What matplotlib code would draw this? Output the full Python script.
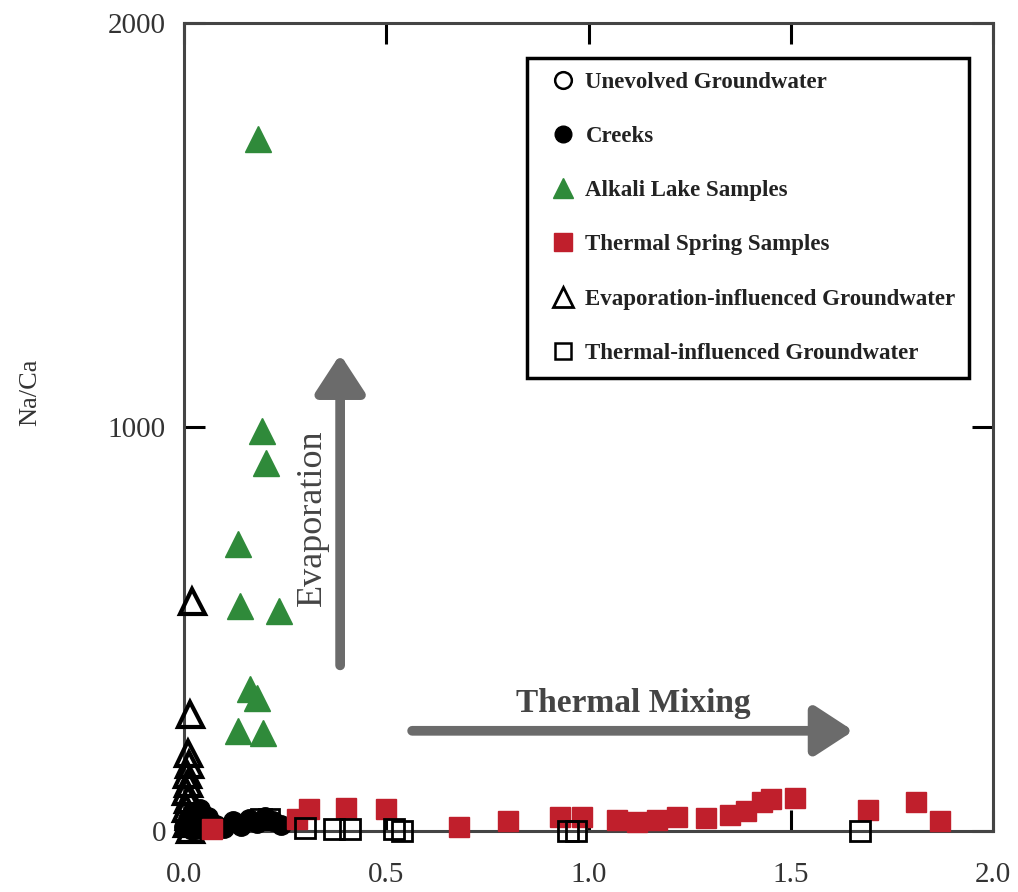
import matplotlib
matplotlib.use("Agg")
import matplotlib.pyplot as plt
from matplotlib.lines import Line2D

plt.rcParams['font.family'] = ['Liberation Serif', 'DejaVu Serif']

# Unevolved groundwater (open circles, mostly buried at the origin)
unevolved_x = [0.02, 0.05, 0.08]
unevolved_y = [5, 15, 8]

# Creeks (filled black circles)
creek_x = [0.0, 0.01, 0.03, 0.05, 0.02, 0.08, 0.10, 0.12, 0.14, 0.16, 0.18, 0.20, 0.22, 0.24, 0.06, 0.04]
creek_y = [10, 30, 5, 20, 45, 15, 8, 25, 12, 30, 20, 35, 25, 15, 35, 55]

# Alkali lake samples
alkali_x = [0.183, 0.193, 0.203, 0.134, 0.138, 0.235, 0.163, 0.180, 0.134, 0.195]
alkali_y = [1713, 990, 911, 710, 557, 545, 351, 329, 248, 243]

# Thermal spring samples
spring_x = [0.07, 0.28, 0.31, 0.40, 0.50, 0.68, 0.80, 0.93, 0.985, 1.07, 1.12, 1.17,
            1.22, 1.29, 1.35, 1.39, 1.43, 1.45, 1.51, 1.69, 1.81, 1.87]
spring_y = [5, 29, 54, 58, 54, 10, 25, 35, 35, 27, 22, 27,
            35, 31, 40, 49, 71, 80, 82, 52, 72, 25]

# Evaporation-influenced groundwater (open triangles)
evap_x = [0.02, 0.015, 0.01, 0.012, 0.008, 0.01, 0.006, 0.01, 0.005, 0.012, 0.008, 0.015]
evap_y = [569, 290, 192, 165, 140, 118, 98, 78, 58, 38, 20, 5]

# Thermal-influenced groundwater (open squares)
tig_x = [0.19, 0.21, 0.30, 0.37, 0.41, 0.52, 0.54, 0.95, 0.97, 1.67]
tig_y = [30, 30, 8, 5, 5, 5, 0, 0, 0, 0]

GREEN = '#2f8a3a'
RED = '#c01f2c'
ARROW = '#6b6b6b'

fig = plt.figure(figsize=(10.18, 8.92), dpi=100)
ax = fig.add_axes([184 / 1018, 61 / 892, 809 / 1018, 808 / 892])

ax.plot(creek_x, creek_y, 'o', ms=14, color='black', ls='none', clip_on=False, zorder=3)
ax.plot(unevolved_x, unevolved_y, 'o', ms=14, mfc='none', mec='black', mew=2,
        ls='none', clip_on=False, zorder=3)
ax.plot(evap_x, evap_y, '^', ms=18, mfc='none', mec='black', mew=3,
        ls='none', clip_on=False, zorder=4)
ax.plot(alkali_x, alkali_y, '^', ms=19, color=GREEN, ls='none', clip_on=False, zorder=4)
ax.plot(spring_x, spring_y, 's', ms=15, color=RED, ls='none', clip_on=False, zorder=5)
ax.plot(tig_x, tig_y, 's', ms=14, mfc='none', mec='black', mew=2,
        ls='none', clip_on=False, zorder=6)

# arrows
arrow_style = '-|>,head_length=2.3,head_width=1.5'
ax.annotate('', xy=(0.386, 1180), xytext=(0.386, 410),
            arrowprops=dict(arrowstyle=arrow_style, color=ARROW, lw=7,
                            shrinkA=0, shrinkB=0))
ax.annotate('', xy=(1.655, 248), xytext=(0.564, 248),
            arrowprops=dict(arrowstyle=arrow_style, color=ARROW, lw=7,
                            shrinkA=0, shrinkB=0))
ax.text(0.318, 775, 'Evaporation', rotation=90, ha='center', va='center',
        fontsize=26, color='#444444')
ax.text(1.11, 315, 'Thermal Mixing', ha='center', va='center',
        fontsize=24, fontweight='bold', color='#444444')

ax.set_xlim(0, 2.0)
ax.set_ylim(0, 2000)
ax.set_xticks([0.0, 0.5, 1.0, 1.5, 2.0])
ax.set_xticklabels(['0.0', '0.5', '1.0', '1.5', '2.0'])
ax.set_yticks([0, 1000, 2000])
ax.tick_params(direction='in', length=15, width=2.2, color='black',
               labelsize=21, labelcolor='#333333', top=True, right=True)
ax.tick_params(axis='x', pad=22)
ax.tick_params(axis='y', pad=13)
for s in ax.spines.values():
    s.set_linewidth(2.2)
    s.set_color('#444444')

fig.text(30 / 1018, 1 - 392 / 892, 'Na/Ca', rotation=90, ha='center', va='center',
         fontsize=19, color='#333333')

handles = [
    Line2D([], [], marker='o', ls='none', ms=12, mfc='none', mec='black', mew=1.8),
    Line2D([], [], marker='o', ls='none', ms=12, color='black'),
    Line2D([], [], marker='^', ls='none', ms=14, color=GREEN),
    Line2D([], [], marker='s', ls='none', ms=13, color=RED),
    Line2D([], [], marker='^', ls='none', ms=14, mfc='none', mec='black', mew=2),
    Line2D([], [], marker='s', ls='none', ms=11, mfc='none', mec='black', mew=1.8),
]
labels = ['Unevolved Groundwater', 'Creeks', 'Alkali Lake Samples',
          'Thermal Spring Samples', 'Evaporation-influenced Groundwater',
          'Thermal-influenced Groundwater']
leg = ax.legend(handles, labels, loc='upper left', bbox_to_anchor=(0.424, 0.957),
                borderaxespad=0, fancybox=False, framealpha=1, edgecolor='black',
                prop={'family': 'Liberation Serif', 'weight': 'bold', 'size': 16.5},
                labelspacing=1.45, handlelength=1.9, handletextpad=0.05,
                borderpad=0.6)
leg.get_frame().set_linewidth(2.5)
for t in leg.get_texts():
    t.set_color('#222222')

fig.savefig('out.png', dpi=100)
